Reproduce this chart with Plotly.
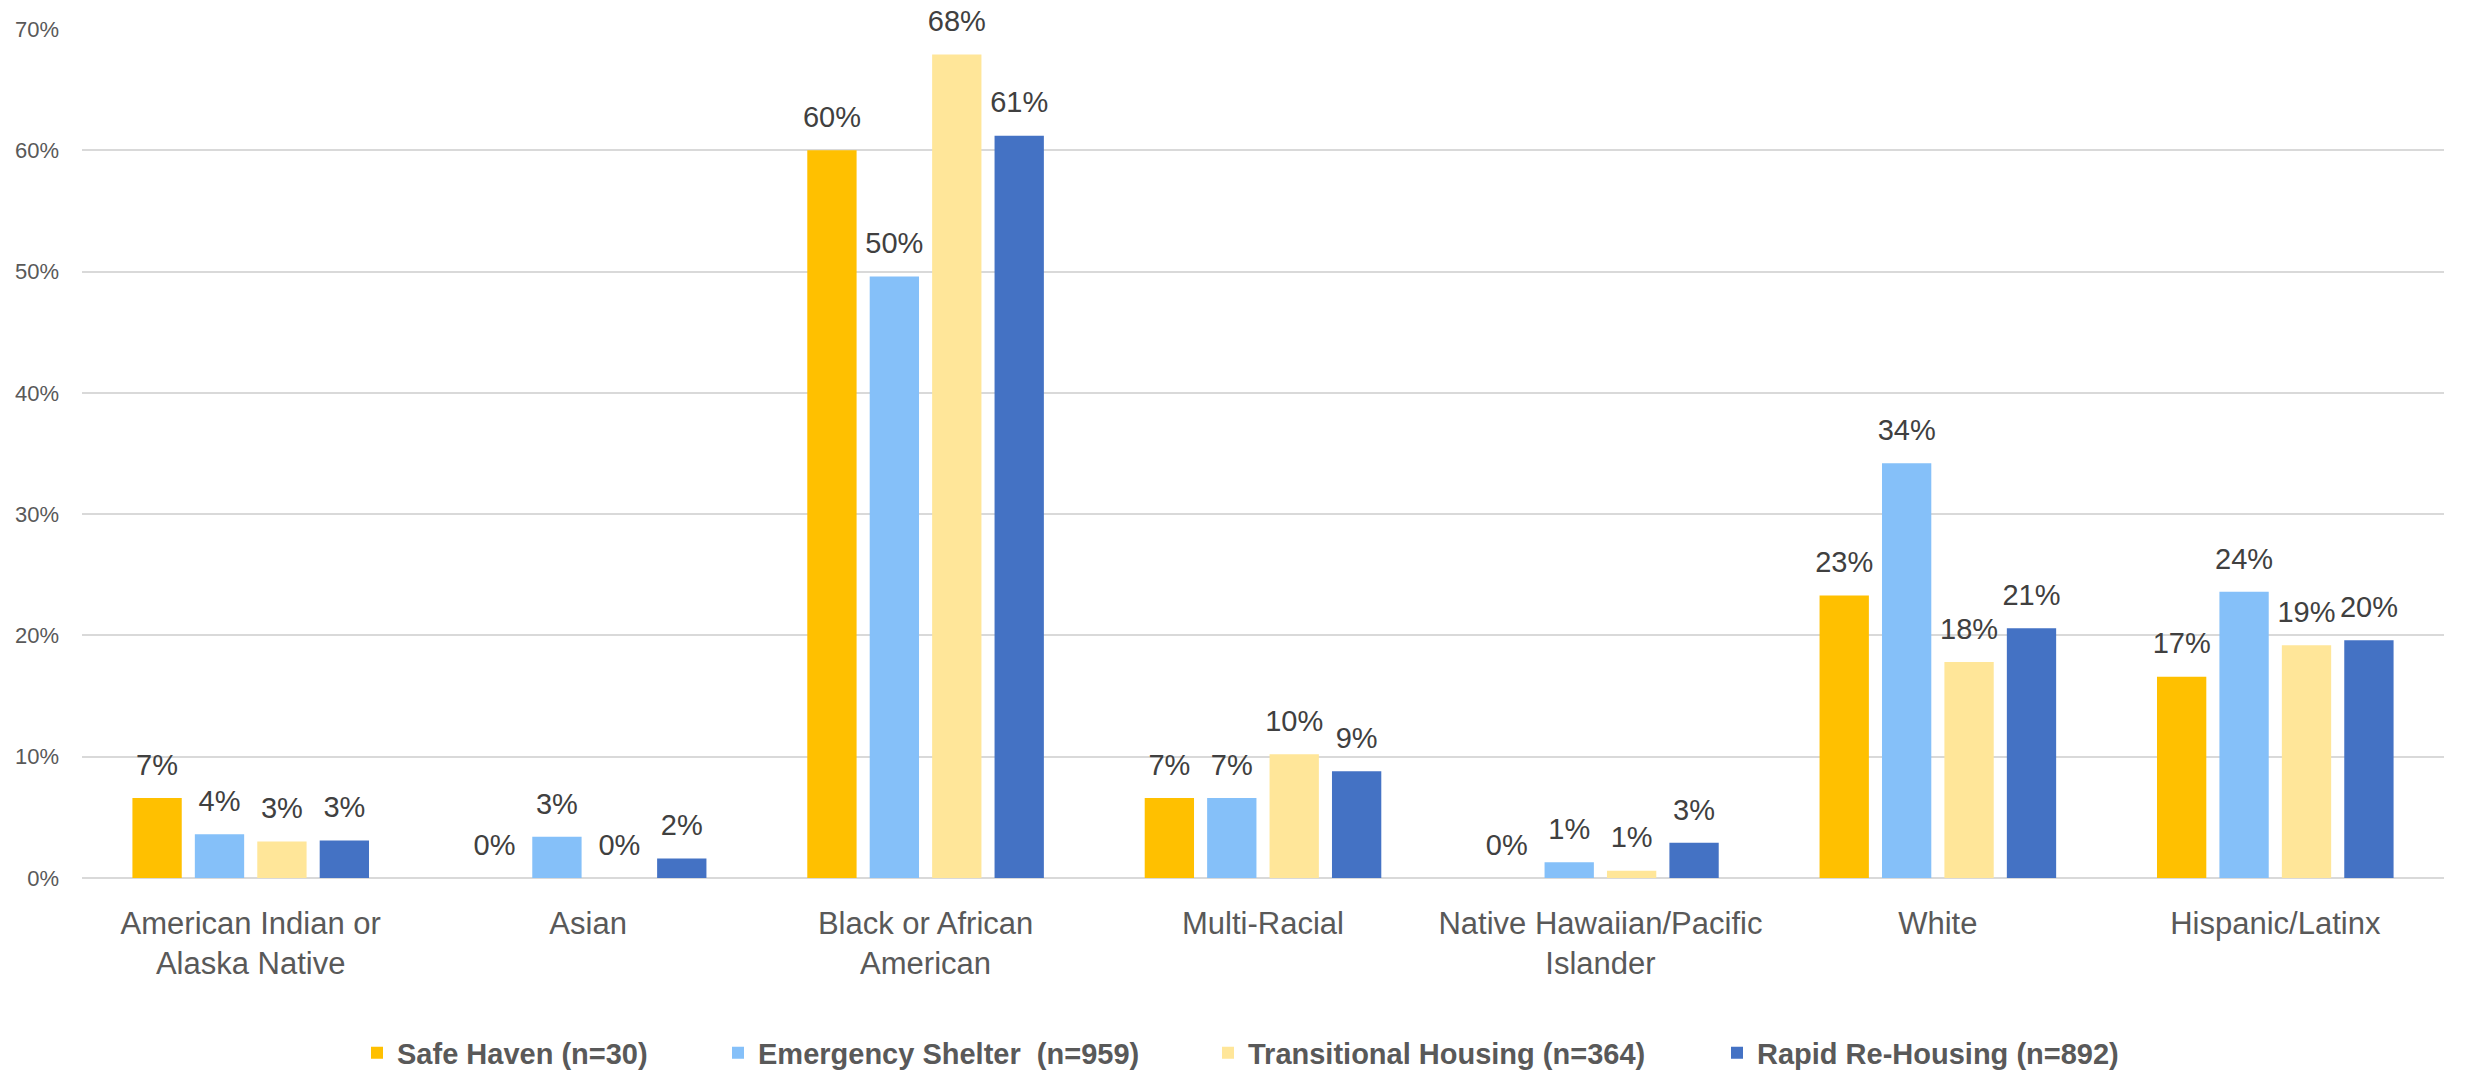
import plotly.graph_objects as go

categories = [
    "American Indian or<br>Alaska Native",
    "Asian",
    "Black or African<br>American",
    "Multi-Racial",
    "Native Hawaiian/Pacific<br>Islander",
    "White",
    "Hispanic/Latinx",
]

series_names = [
    "Safe Haven (n=30)",
    "Emergency Shelter  (n=959)",
    "Transitional Housing (n=364)",
    "Rapid Re-Housing (n=892)",
]

safe_haven = [6.6, 0.0, 60.0, 6.6, 0.0, 23.3, 16.6]
emergency_shelter = [3.6, 3.4, 49.6, 6.6, 1.3, 34.2, 23.6]
transitional_housing = [3.0, 0.0, 67.9, 10.2, 0.6, 17.8, 19.2]
rapid_rehousing = [3.1, 1.6, 61.2, 8.8, 2.9, 20.6, 19.6]

y_ticks = [0, 10, 20, 30, 40, 50, 60, 70]
y_tick_labels = ["0%", "10%", "20%", "30%", "40%", "50%", "60%", "70%"]

colors = ["#FFC000", "#85C0F9", "#FFE699", "#4472C4"]
FONT = "Liberation Sans, Arial, sans-serif"

W, H = 2468, 1074
ML, MR, MT, MB = 82, 24, 29, 196
plot_w = W - ML - MR
plot_h = H - MT - MB

# legend entry symbol centres (px) in the reference
legend_px = [379, 740, 1230, 1739]
legend_keys = ["legend", "legend2", "legend3", "legend4"]

fig = go.Figure()
all_values = [safe_haven, emergency_shelter, transitional_housing, rapid_rehousing]

for i, (name, vals, col) in enumerate(zip(series_names, all_values, colors)):
    fig.add_trace(go.Bar(
        x=categories, y=vals, name=name,
        marker=dict(color=col, line=dict(width=0)),
        offsetgroup=str(i), legend=legend_keys[i],
    ))

for i, (name, vals, col) in enumerate(zip(series_names, all_values, colors)):
    fig.add_trace(go.Scatter(
        x=categories, y=vals, mode="markers+text",
        marker=dict(size=24, opacity=0, color=col),
        text=[f"{round(v):.0f}%" for v in vals],
        textposition="top center",
        textfont=dict(family=FONT, size=29, color="#404040"),
        offsetgroup=str(i),
        showlegend=False, hoverinfo="skip", cliponaxis=False,
    ))

legend_y = (MT + plot_h - 1053) / plot_h
layout_legends = {}
for key, px in zip(legend_keys, legend_px):
    layout_legends[key] = dict(
        orientation="h", x=(px - 22 - ML) / plot_w, xanchor="left",
        y=legend_y, yanchor="middle",
        font=dict(family=FONT, size=29, color="#595959", weight="bold"),
        itemwidth=30, bgcolor="rgba(0,0,0,0)",
    )

fig.update_layout(
    width=W, height=H,
    paper_bgcolor="white", plot_bgcolor="white",
    margin=dict(l=ML, r=MR, t=MT, b=MB, autoexpand=False),
    barmode="group", scattermode="group",
    bargap=0.26, bargroupgap=0.21,
    font=dict(family=FONT, color="#595959"),
    showlegend=True,
    **layout_legends,
)

fig.update_xaxes(
    tickfont=dict(family=FONT, size=31, color="#595959"),
    showgrid=False, showline=False, ticks="", ticklabelstandoff=24,
    automargin=False,
)
fig.update_yaxes(
    range=[0, 70], tickvals=y_ticks, ticktext=y_tick_labels,
    tickfont=dict(family=FONT, size=22, color="#595959"),
    showgrid=True, gridcolor="#D9D9D9", gridwidth=2,
    zeroline=True, zerolinecolor="#D9D9D9", zerolinewidth=2,
    showline=False, ticks="", ticklabelstandoff=22, automargin=False,
)

fig.write_html("out.html")
